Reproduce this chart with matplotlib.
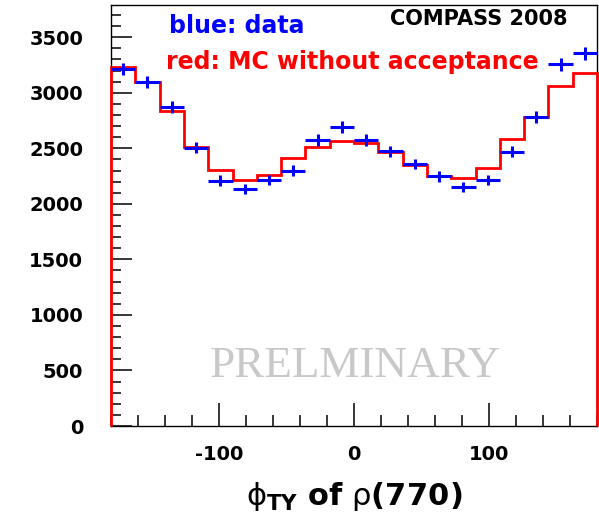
import numpy as np
import matplotlib
matplotlib.use("Agg")
import matplotlib.pyplot as plt
from matplotlib.ticker import MultipleLocator

# phi_TY distribution of the rho(770): 20 bins of 18 degrees
bin_edges = np.arange(-180, 181, 18)
mc_counts = [3234, 3094, 2838, 2509, 2305, 2215, 2260, 2415, 2514, 2568,
             2545, 2469, 2350, 2251, 2233, 2326, 2581, 2779, 3060, 3174]
data_counts = [3213, 3099, 2869, 2505, 2210, 2131, 2215, 2299, 2575, 2694,
               2575, 2473, 2359, 2248, 2152, 2215, 2469, 2784, 3255, 3354]

x_ticks = [-100, 0, 100]
y_ticks = [0, 500, 1000, 1500, 2000, 2500, 3000, 3500]

plt.rcParams["font.family"] = ["DejaVu Sans"]
plt.rcParams["mathtext.fontset"] = "dejavusans"
plt.rcParams["axes.unicode_minus"] = False

fig = plt.figure(figsize=(5.99, 5.16), dpi=100)
ax = fig.add_axes([0.1853, 0.1744, 0.9967 - 0.1853, 0.9903 - 0.1744])

# MC histogram outline
ax.stairs(mc_counts, bin_edges, baseline=0, color="#ff0000", linewidth=2.0,
          clip_on=False, zorder=3)

# data points with bin-width horizontal bars and Poisson errors
data = np.asarray(data_counts, dtype=float)
centers = 0.5 * (bin_edges[:-1] + bin_edges[1:])
half_width = 0.5 * np.diff(bin_edges)
ax.errorbar(centers, data, xerr=half_width, yerr=np.sqrt(data), fmt="none",
            ecolor="#0000ff", elinewidth=2.2, capsize=0, zorder=4)

ax.set_xlim(-180, 180)
ax.set_ylim(0, 3790)
ax.set_xticks(x_ticks)
ax.set_yticks(y_ticks)
ax.xaxis.set_minor_locator(MultipleLocator(20))
ax.yaxis.set_minor_locator(MultipleLocator(100))

ax.tick_params(axis="both", which="both", direction="in", color="black",
               width=1.1, top=False, right=False)
ax.tick_params(axis="x", which="major", length=16.5, pad=14)
ax.tick_params(axis="x", which="minor", length=8)
ax.tick_params(axis="y", which="major", length=15, pad=20)
ax.tick_params(axis="y", which="minor", length=7.5)
for lab in ax.get_xticklabels() + ax.get_yticklabels():
    lab.set_fontsize(14)
    lab.set_fontweight("bold")

for s in ax.spines.values():
    s.set_color("black")
    s.set_linewidth(1.0)

ax.set_xlabel(r"$\mathrm{\phi}_{\mathbf{TY}}\ \mathbf{of}\ \mathrm{\rho}\mathbf{(770)}$",
              fontsize=22, labelpad=11)

ax.text(-137, 3600, "blue: data", color="#0000ff", fontsize=17,
        fontweight="bold", va="center", ha="left")
ax.text(-139, 3280, "red: MC without acceptance", color="#ff0000", fontsize=17,
        fontweight="bold", va="center", ha="left")
ax.text(158, 3660, "COMPASS 2008", color="black", fontsize=15,
        fontweight="bold", va="center", ha="right")
ax.text(1, 443, "PRELMINARY", color="#c8c8c8", fontsize=32.5,
        family="Liberation Serif", va="baseline", ha="center")

fig.savefig("out.png", dpi=100)
